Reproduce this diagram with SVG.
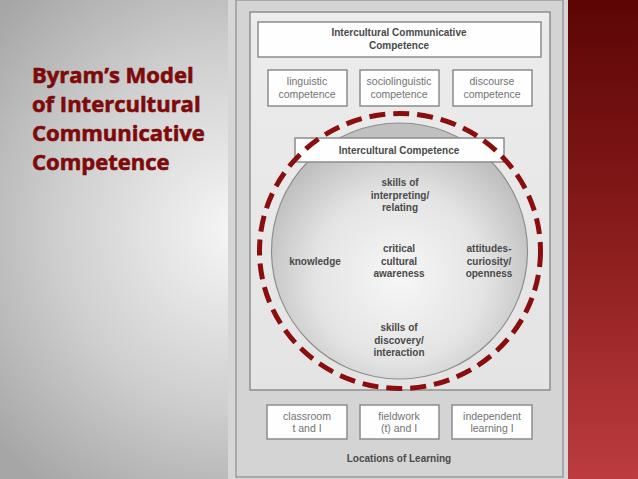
<svg xmlns="http://www.w3.org/2000/svg" width="638" height="479" viewBox="0 0 638 479">
<defs>
<radialGradient id="bg" cx="236" cy="230" r="320" gradientUnits="userSpaceOnUse">
<stop offset="0" stop-color="#f6f6f6"/>
<stop offset="0.55" stop-color="#cfcfcf"/>
<stop offset="1" stop-color="#a6a6a6"/>
</radialGradient>
<linearGradient id="red" x1="0" y1="0" x2="0" y2="1">
<stop offset="0" stop-color="#5c0505"/>
<stop offset="0.5" stop-color="#8a1c1c"/>
<stop offset="1" stop-color="#bd3c3f"/>
</linearGradient>
<radialGradient id="ball" cx="0.5" cy="0.6" r="0.55">
<stop offset="0" stop-color="#f7f7f7"/>
<stop offset="0.6" stop-color="#e4e4e4"/>
<stop offset="1" stop-color="#c0c0c0"/>
</radialGradient>
<linearGradient id="frame" x1="0" y1="0" x2="0" y2="1">
<stop offset="0" stop-color="#ececec"/>
<stop offset="1" stop-color="#e4e4e4"/>
</linearGradient>
</defs>
<style>
.box{fill:#fefefe;stroke:#8c8c8c;stroke-width:1.5}
.sm{font-family:"Liberation Sans",Arial,sans-serif;font-size:10.5px;fill:#737373;text-anchor:middle}
.bd{font-family:"Liberation Sans",Arial,sans-serif;font-size:10px;font-weight:bold;fill:#4a4a4a;text-anchor:middle}
.title{font-family:"Open Sans","Noto Sans",sans-serif;font-size:22px;font-weight:bold;fill:#7d0b0b;stroke:#7d0b0b;stroke-width:0.6}
</style>
<rect x="0" y="0" width="638" height="479" fill="url(#bg)"/>
<rect x="566" y="0" width="72" height="479" fill="url(#red)"/>
<rect x="228" y="0" width="340" height="479" fill="#d6d6d6"/>
<rect x="236" y="0" width="327" height="477" fill="#d4d4d4" stroke="#9a9a9a" stroke-width="1.5"/>
<rect x="250" y="12" width="300" height="378" fill="url(#frame)" stroke="#8e8e8e" stroke-width="1.5"/>

<g id="title">
<text class="title" x="32" y="83">Byram’s Model</text>
<text class="title" x="32" y="112">of Intercultural</text>
<text class="title" x="32" y="141">Communicative</text>
<text class="title" x="32" y="170">Competence</text>
</g>

<g id="icc">
<rect class="box" x="258" y="22" width="283" height="35"/>
<text class="bd" x="399" y="36">Intercultural Communicative</text>
<text class="bd" x="399" y="49">Competence</text>
</g>
<g id="linguistic">
<rect class="box" x="268" y="70" width="79" height="36"/>
<text class="sm" x="307" y="85">linguistic</text>
<text class="sm" x="307" y="98">competence</text>
</g>
<g id="sociolinguistic">
<rect class="box" x="360" y="70" width="79" height="36"/>
<text class="sm" x="399" y="85">sociolinguistic</text>
<text class="sm" x="399" y="98">competence</text>
</g>
<g id="discourse">
<rect class="box" x="453" y="70" width="79" height="36"/>
<text class="sm" x="492" y="85">discourse</text>
<text class="sm" x="492" y="98">competence</text>
</g>

<g id="ic-circle">
<circle cx="399.5" cy="251" r="128" fill="url(#ball)" stroke="#8e8e8e" stroke-width="1.2"/>
<rect class="box" x="295" y="138" width="209" height="24"/>
<text class="bd" x="399" y="154">Intercultural Competence</text>
</g>
<g id="skills-interpreting">
<text class="bd" x="400" y="186">skills of</text>
<text class="bd" x="400" y="199">interpreting/</text>
<text class="bd" x="400" y="211">relating</text>
</g>
<g id="knowledge">
<text class="bd" x="315" y="265">knowledge</text>
</g>
<g id="critical">
<text class="bd" x="399" y="252">critical</text>
<text class="bd" x="399" y="265">cultural</text>
<text class="bd" x="399" y="277">awareness</text>
</g>
<g id="attitudes">
<text class="bd" x="489" y="252">attitudes-</text>
<text class="bd" x="489" y="265">curiosity/</text>
<text class="bd" x="489" y="277">openness</text>
</g>
<g id="skills-discovery">
<text class="bd" x="399" y="331">skills of</text>
<text class="bd" x="399" y="344">discovery/</text>
<text class="bd" x="399" y="356">interaction</text>
</g>
<g id="highlight">
<ellipse cx="400" cy="251" rx="140.5" ry="137.5" fill="none" stroke="#8b0e0e" stroke-width="5" stroke-dasharray="16 8"/>
</g>

<g id="classroom">
<rect class="box" x="267" y="405" width="80" height="34"/>
<text class="sm" x="307" y="420">classroom</text>
<text class="sm" x="307" y="432">t and I</text>
</g>
<g id="fieldwork">
<rect class="box" x="360" y="405" width="79" height="34"/>
<text class="sm" x="399" y="420">fieldwork</text>
<text class="sm" x="399" y="432">(t) and I</text>
</g>
<g id="independent">
<rect class="box" x="452" y="405" width="80" height="34"/>
<text class="sm" x="492" y="420">independent</text>
<text class="sm" x="492" y="432">learning I</text>
</g>
<g id="locations">
<text class="bd" x="399" y="462">Locations of Learning</text>
</g>
<g id="connectors"></g>
</svg>
